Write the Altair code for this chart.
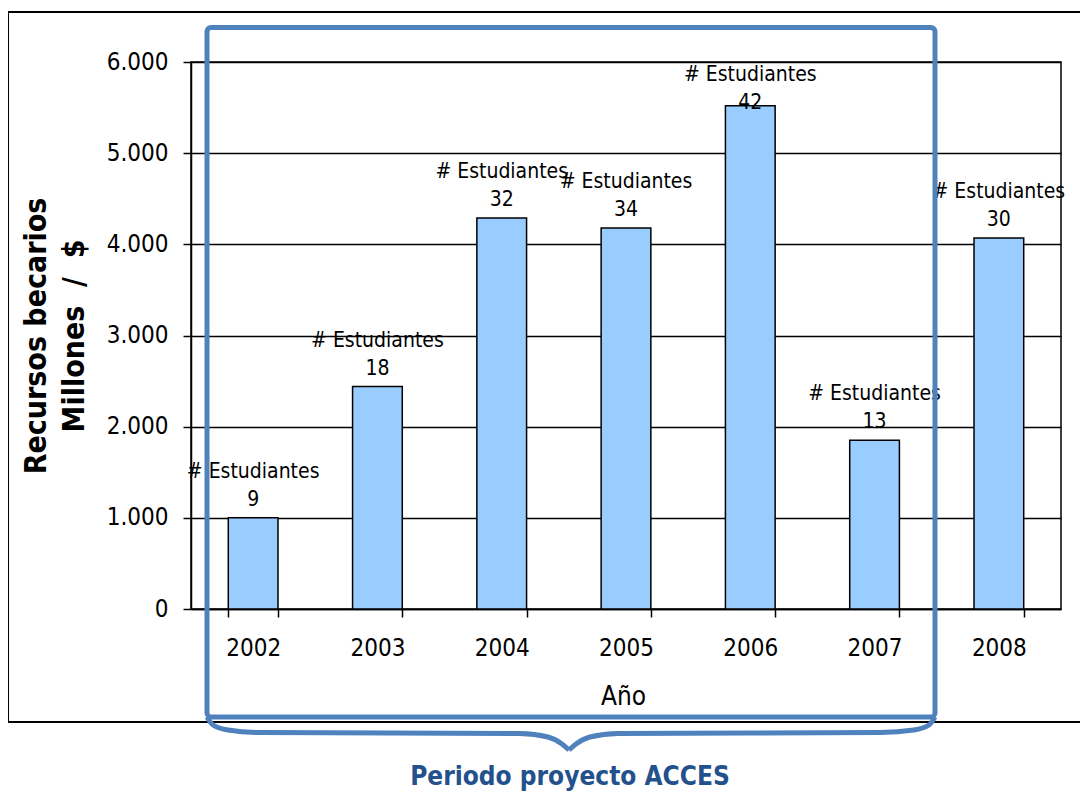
import altair as alt
import pandas as pd

# ---- data ----
years = ["2002", "2003", "2004", "2005", "2006", "2007", "2008"]
recursos = [1000, 2440, 4290, 4180, 5520, 1850, 4070]
estudiantes = [9, 18, 32, 34, 42, 13, 30]
y_ticks = [0, 1000, 2000, 3000, 4000, 5000, 6000]
y_title = ["Recursos becarios", "Millones\u00a0\u00a0/\u00a0\u00a0$"]
x_title = "Año"
label_prefix = "# Estudiantes"
period_text = "Periodo proyecto ACCES"

# brace outline (decoration, pixel coordinates relative to plot origin)
brace_px = [16, 22, 37, 69, 329, 357, 371, 378,
            378, 385, 399, 427, 689, 723, 738, 744]
brace_py = [655, 663, 668, 670.5, 671.5, 675, 682, 688,
            688, 682, 675, 671.5, 670.5, 668, 663, 655]
brace_half = ["l"] * 8 + ["r"] * 8

FONT = "DejaVu Sans Condensed, DejaVu Sans, Verdana, sans-serif"
W, H = 870, 547

df = pd.DataFrame({"year": years, "value": recursos, "n": estudiantes})

x_axis = alt.Axis(
    labelAngle=0, tickBand="extent", tickSize=8, tickWidth=1.5, tickColor="black",
    domainColor="black", domainWidth=1.5, labelPadding=19, labelFontSize=24,
    labelFont=FONT, labelColor="black", grid=False,
    titleFont=FONT, titleFontSize=26, titleFontWeight="normal", titleColor="black",
    titleX=432, titleY=95, titleBaseline="alphabetic", titleAlign="center",
)
y_axis = alt.Axis(
    values=y_ticks, labelExpr="replace(format(datum.value, ','), ',', '.')",
    tickSize=8, tickWidth=1.5, tickColor="black", domainColor="black", domainWidth=1.5,
    labelPadding=15, labelFontSize=24, labelFont=FONT, labelColor="black",
    grid=True, gridColor="black", gridWidth=1.5, gridOpacity=1,
    titleFont=FONT, titleFontSize=30, titleFontWeight="bold", titleColor="black",
    titleAngle=-90, titleX=-155, titleY=H / 2, titleBaseline="middle",
    titleAlign="center", titleLineHeight=38,
)
x_scale = alt.Scale(paddingInner=0.6, paddingOuter=0.3)
y_scale = alt.Scale(domain=[0, 6000], nice=False)


def xe():
    return alt.X("year:N", title=x_title, scale=x_scale, axis=x_axis, sort=years)


def ye(field):
    return alt.Y(field, title=y_title, scale=y_scale, axis=y_axis)


base = alt.Chart(df).transform_calculate(ly="min(datum.value, 5350)")

bars = alt.Chart(df).mark_bar(color="#99CCFF", stroke="black", strokeWidth=1.5).encode(
    x=xe(), y=ye("value:Q")
)
lab1 = base.mark_text(text=label_prefix, dy=-46, fontSize=21, font=FONT,
                      color="black", baseline="middle").encode(x=xe(), y=ye("ly:Q"))
lab2 = base.mark_text(dy=-18, fontSize=21, font=FONT, color="black",
                      baseline="middle").encode(x=xe(), y=ye("ly:Q"), text="n:Q")

inner = alt.layer(bars, lab1, lab2)

dummy = pd.DataFrame({"a": [0]})
outer_box = alt.Chart(dummy).mark_rect(fillOpacity=0, stroke="black", strokeWidth=2).encode(
    x=alt.value(-183), x2=alt.value(930), y=alt.value(-50), y2=alt.value(660)
)
blue_box = alt.Chart(dummy).mark_rect(fillOpacity=0, stroke="#4F81BD", strokeWidth=5,
                                      cornerRadius=4).encode(
    x=alt.value(16), x2=alt.value(744), y=alt.value(-34.5), y2=alt.value(655)
)
brace_df = pd.DataFrame({"px": brace_px, "py": brace_py, "half": brace_half,
                         "i": list(range(len(brace_px)))})
brace = alt.Chart(brace_df).mark_line(color="#4F81BD", strokeWidth=5,
                                      interpolate="monotone").encode(
    x=alt.X("px:Q", scale=None, axis=None),
    y=alt.Y("py:Q", scale=None, axis=None),
    detail="half:N", order="i:Q",
)
period = alt.Chart(dummy).mark_text(text=period_text,
                                    font="Liberation Sans Narrow, DejaVu Sans Condensed, sans-serif",
                                    fontSize=26, fontWeight="bold", color="#23518C",
                                    align="center", baseline="alphabetic").encode(
    x=alt.value(379), y=alt.value(723)
)

chart = alt.layer(outer_box, inner, blue_box, brace, period).resolve_scale(
    x="independent", y="independent"
).properties(
    width=W, height=H,
    autosize=alt.AutoSizeParams(type="none"),
    padding={"left": 183, "top": 54, "right": 19, "bottom": 184},
    background="white",
).configure_view(stroke="black", strokeWidth=1.5)

chart.save("out.html", embed_options={"renderer": "svg", "actions": False})
